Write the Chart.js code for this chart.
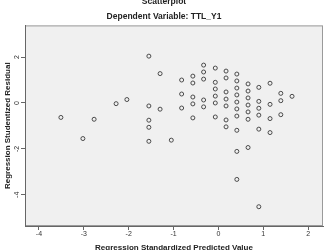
<!DOCTYPE html>
<html>
<head>
<meta charset="utf-8">
<script src="https://cdn.jsdelivr.net/npm/chart.js@4.4.0/dist/chart.umd.min.js"></script>
<style>
  html, body { margin: 0; padding: 0; background: #fff; }
  #wrap { width: 328px; height: 250px; }
</style>
</head>
<body>
<div id="wrap"><canvas id="scatter"></canvas></div>
<script>
// ── Data ────────────────────────────────────────────────────────────
const predicted = [
  -3.51, -3.02, -2.77, -2.28, -2.04,
  -1.55, -1.55, -1.55, -1.55, -1.55, -1.30, -1.30, -1.05,
  -0.82, -0.82, -0.82,
  -0.57, -0.57, -0.57, -0.57, -0.57,
  -0.33, -0.33, -0.33, -0.33, -0.33,
  -0.07, -0.07, -0.07, -0.07, -0.07, -0.07,
  0.17, 0.17, 0.17, 0.17, 0.17, 0.17, 0.17,
  0.41, 0.41, 0.41, 0.41, 0.41, 0.41, 0.41, 0.41, 0.41, 0.41,
  0.66, 0.66, 0.66, 0.66, 0.66, 0.66, 0.66,
  0.90, 0.90, 0.90, 0.90, 0.90, 0.90,
  1.15, 1.15, 1.15, 1.15,
  1.39, 1.39, 1.39,
  1.64,
];
const residual = [
  -0.63, -1.55, -0.71, -0.03, 0.15,
  2.04, -0.13, -0.75, -1.06, -1.67, 1.28, -0.27, -1.62,
  1.00, 0.39, -0.22,
  1.17, 0.87, 0.26, -0.04, -0.65,
  1.65, 1.35, 1.04, 0.13, -0.17,
  1.52, 0.90, 0.61, 0.30, 0.00, -0.61,
  1.39, 1.09, 0.48, 0.17, -0.13, -0.74, -1.04,
  1.26, 0.96, 0.65, 0.35, 0.04, -0.26, -0.57, -1.19, -2.11, -3.33,
  0.83, 0.52, 0.22, -0.09, -0.39, -0.71, -1.94,
  0.68, 0.07, -0.23, -0.53, -1.14, -4.52,
  0.86, -0.06, -0.68, -1.29,
  0.42, 0.10, -0.51,
  0.29,
];
const xTicks = [-4, -3, -2, -1, 0, 1, 2];
const yTicks = [-4, -2, 0, 2];

const FONT = "'Liberation Sans', Arial, sans-serif";
const TICK = { color: '#333', font: { family: FONT, size: 7 } };

// plot area fill + frame (SPSS style)
const frame = {
  id: 'frame',
  beforeDraw(chart) {
    const { ctx, chartArea: a } = chart;
    ctx.save();
    ctx.fillStyle = '#f0f0f0';
    ctx.fillRect(a.left, a.top, a.right - a.left, a.bottom - a.top);
    ctx.strokeStyle = '#9a9a9a';
    ctx.lineWidth = 1;
    ctx.strokeRect(a.left + 0.5, a.top + 0.5, a.right - a.left - 1, a.bottom - a.top - 1);
    ctx.restore();
  },
};

new Chart(document.getElementById('scatter'), {
  type: 'scatter',
  data: {
    datasets: [{
      data: predicted.map((x, i) => ({ x, y: residual[i] })),
      pointStyle: 'circle',
      pointRadius: 2,
      pointBorderWidth: 1,
      borderColor: '#4a4a4a',
      backgroundColor: 'rgba(0,0,0,0)',
    }],
  },
  options: {
    responsive: true,
    maintainAspectRatio: false,
    animation: false,
    events: [],
    layout: { padding: 0 },
    plugins: {
      legend: { display: false },
      tooltip: { enabled: false },
      title: {
        display: true,
        text: 'Scatterplot',
        color: '#222',
        font: { family: FONT, size: 8.5, weight: 'bold', lineHeight: 1.2 },
        padding: { top: -3, bottom: 3 },
      },
      subtitle: {
        display: true,
        text: 'Dependent Variable: TTL_Y1',
        color: '#222',
        font: { family: FONT, size: 8.5, weight: 'bold', lineHeight: 1.2 },
        padding: { top: 1, bottom: 4 },
      },
    },
    scales: {
      x: {
        type: 'linear',
        min: -4.31,
        max: 2.33,
        afterBuildTicks: s => { s.ticks = xTicks.map(v => ({ value: v })); },
        afterFit: s => { s.height = 24; },
        ticks: { ...TICK, padding: 0, maxRotation: 0 },
        grid: { drawOnChartArea: false, drawTicks: true, tickLength: 4, color: '#666' },
        border: { color: '#666' },
        title: {
          display: true,
          text: 'Regression Standardized Predicted Value',
          color: '#222',
          font: { family: FONT, size: 8, weight: 'bold', lineHeight: 1.2 },
          padding: { top: 0, bottom: -2.2 },
        },
      },
      y: {
        type: 'linear',
        min: -5.36,
        max: 3.38,
        afterBuildTicks: s => { s.ticks = yTicks.map(v => ({ value: v })); },
        afterFit: s => { s.width = 25; },
        ticks: { ...TICK, padding: 1, minRotation: 90, maxRotation: 90, crossAlign: 'center' },
        grid: { drawOnChartArea: false, drawTicks: true, tickLength: 4, color: '#666' },
        border: { color: '#666' },
        title: {
          display: true,
          text: 'Regression Studentized Residual',
          color: '#222',
          font: { family: FONT, size: 8, weight: 'bold', lineHeight: 1.2 },
          padding: { top: 3, bottom: 0 },
        },
      },
    },
  },
  plugins: [frame],
});
</script>
</body>
</html>
